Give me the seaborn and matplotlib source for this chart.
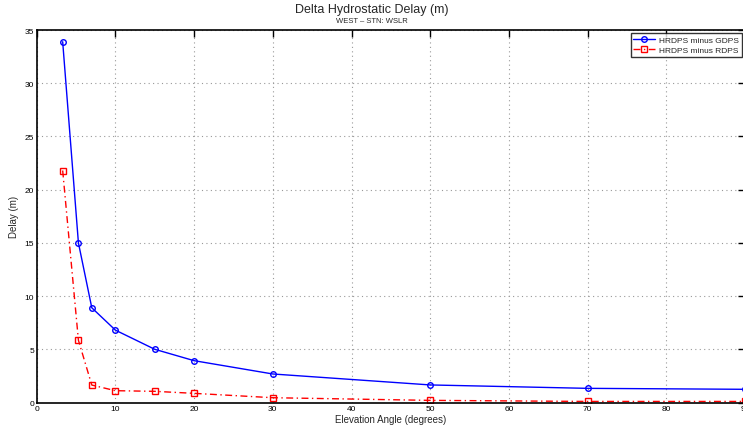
import matplotlib
matplotlib.use("Agg")
import matplotlib.pyplot as plt
import seaborn as sns
import pandas as pd

elevation = [3.3, 5.3, 7, 10, 15, 20, 30, 50, 70, 90]
hrdps_minus_gdps = [33.9, 15.0, 8.9, 6.8, 5.0, 3.93, 2.68, 1.65, 1.33, 1.24]
hrdps_minus_rdps = [21.8, 5.85, 1.64, 1.11, 1.05, 0.86, 0.45, 0.2, 0.1, 0.1]
series_names = ["HRDPS minus GDPS", "HRDPS minus RDPS"]
x_ticks = [0, 10, 20, 30, 40, 50, 60, 70, 80, 90]
y_ticks = [0, 5, 10, 15, 20, 25, 30, 35]

sns.set_style("white")
plt.rcParams['font.family'] = ['Liberation Sans', 'DejaVu Sans']

fig = plt.figure(figsize=(7.43, 4.31), dpi=100)
ax = fig.add_axes([0.0494, 0.0638, 0.9533, 0.8642])

df1 = pd.DataFrame({"x": elevation, "y": hrdps_minus_gdps})
df2 = pd.DataFrame({"x": elevation, "y": hrdps_minus_rdps})

sns.lineplot(data=df1, x="x", y="y", ax=ax, color="#0000ff", linewidth=1.0,
             marker="o", markersize=4, markerfacecolor="none",
             markeredgecolor="#0000ff", markeredgewidth=1.0,
             label=series_names[0])
sns.lineplot(data=df2, x="x", y="y", ax=ax, color="#ff0000", linewidth=1.0,
             linestyle=(0, (5, 2.5, 1, 2.5)), marker="s", markersize=3.8,
             markerfacecolor="none",
             markeredgecolor="#ff0000", markeredgewidth=1.0,
             label=series_names[1])

ax.set_xlim(0, 90)
ax.set_ylim(0, 35)
ax.set_xticks(x_ticks)
ax.set_yticks(y_ticks)
ax.tick_params(axis="both", direction="in", length=5, width=1.0,
               labelsize=6, colors="black", top=True, right=True, pad=2)
ax.grid(True, linestyle=(0, (1, 3)), color="#999999", linewidth=0.8)
for s in ax.spines.values():
    s.set_color("black")
    s.set_linewidth(1.2)

ax.set_xlabel("Elevation Angle (degrees)", fontsize=7, labelpad=1)
ax.set_ylabel("Delay (m)", fontsize=7, labelpad=4)

fig.text(0.5, 0.977, "Delta Hydrostatic Delay (m)", ha="center", va="center", fontsize=9)
fig.text(0.5, 0.949, "WEST – STN: WSLR", ha="center", va="center", fontsize=5.5)

leg = ax.legend(loc="upper right", fontsize=6.0, frameon=True, fancybox=False,
                edgecolor="black", borderpad=0.35, labelspacing=0.25,
                handlelength=2.6, handletextpad=0.5, borderaxespad=0.35)
leg.get_frame().set_linewidth(1.0)

fig.savefig("out.png", dpi=100)
